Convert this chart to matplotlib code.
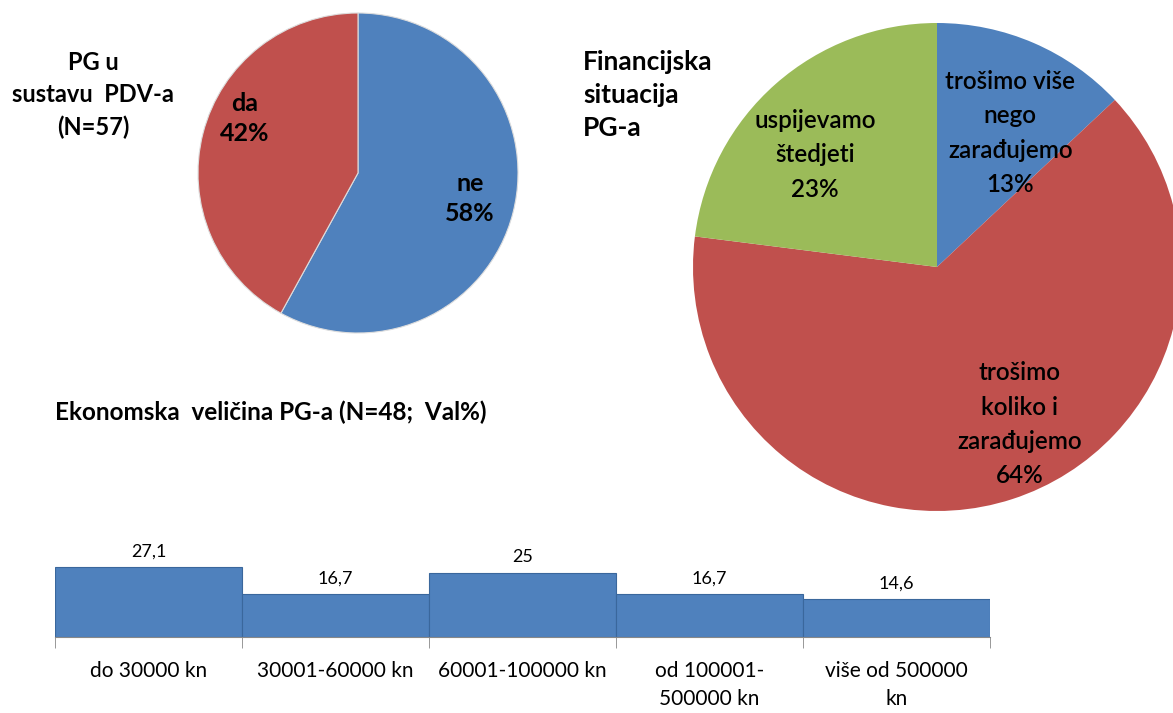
import numpy as np
import matplotlib.pyplot as plt

plt.rcParams['font.family'] = ['Lato', 'DejaVu Sans']

BLUE = '#4F81BD'
RED = '#C0504D'
GREEN = '#9BBB59'

# PG u sustavu PDV-a
pdv_labels = ['ne', 'da']
pdv_values = [58, 42]

# Financijska situacija PG-a
fin_labels = ['trošimo više\nnego\nzarađujemo', 'trošimo\nkoliko i\nzarađujemo', 'uspijevamo\nštedjeti']
fin_values = [13, 64, 23]

# Ekonomska veličina PG-a
eko_labels = ['do 30000 kn', '30001-60000 kn', '60001-100000 kn', 'od 100001-\n500000 kn', 'više od 500000\nkn']
eko_values = [27.1, 16.7, 25, 16.7, 14.6]
eko_text = ['27,1', '16,7', '25', '16,7', '14,6']

W, H = 1173, 713
fig = plt.figure(figsize=(W / 100, H / 100), dpi=100)


def px_axes(cx, cy, r):
    # square axes centred on (cx, cy) in pixel coordinates, origin top-left
    return fig.add_axes([(cx - r) / W, (H - cy - r) / H, 2 * r / W, 2 * r / H])


# lijevi krug
ax1 = px_axes(358, 173, 160)
w1, _ = ax1.pie(pdv_values, colors=[BLUE, RED], startangle=90, counterclock=False,
                wedgeprops=dict(edgecolor='#dddddd', linewidth=0.8))
ax1.set_xlim(-1, 1)
ax1.set_ylim(-1, 1)
pos1 = [(0.70, -0.16), (-0.71, 0.34)]
for lab, v, (x, y) in zip(pdv_labels, pdv_values, pos1):
    ax1.text(x, y, f'{lab}\n{v}%', ha='center', va='center', fontsize=18,
             fontweight='bold', linespacing=1.4)

fig.text(93 / W, 1 - 95 / H, 'PG u\nsustavu  PDV-a\n(N=57)', ha='center', va='center',
         fontsize=17, fontweight='bold', linespacing=1.5)

# desni krug
ax2 = px_axes(937, 267, 244)
w2, _ = ax2.pie(fin_values, colors=[BLUE, RED, GREEN], startangle=90, counterclock=False,
                wedgeprops=dict(edgecolor='none'))
ax2.set_xlim(-1, 1)
ax2.set_ylim(-1, 1)
pos2 = [(0.30, 0.55), (0.34, -0.645), (-0.50, 0.46)]
for lab, v, (x, y) in zip(fin_labels, fin_values, pos2):
    ax2.text(x, y, f'{lab}\n{v}%', ha='center', va='center', fontsize=17.5,
             fontweight='semibold', linespacing=1.6)

fig.text(583 / W, 1 - 95 / H, 'Financijska\nsituacija\nPG-a', ha='left', va='center',
         fontsize=19, fontweight='bold', linespacing=1.45)

# stupci
fig.text(55 / W, 1 - 412 / H, 'Ekonomska  veličina PG-a (N=48;  Val%)', ha='left',
         va='center', fontsize=17.5, fontweight='bold')

ax3 = fig.add_axes([55 / W, (H - 637) / H, 935 / W, 97 / H])
x = np.arange(len(eko_values))
ax3.bar(x, eko_values, width=1.0, color=BLUE, edgecolor='#3A679C', linewidth=0.8)
for xi, v, t in zip(x, eko_values, eko_text):
    ax3.text(xi, v + 3, t, ha='center', va='bottom', fontsize=13)
ax3.set_xlim(-0.5, len(eko_values) - 0.5)
ax3.set_ylim(0, 37.6)
ax3.set_yticks([])
for s in ['top', 'left', 'right']:
    ax3.spines[s].set_visible(False)
ax3.spines['bottom'].set_color('#888888')
ax3.set_xticks(x)
ax3.set_xticklabels(eko_labels, fontsize=15, linespacing=1.5, va='top')
ax3.tick_params(axis='x', which='major', length=0, pad=17)
ax3.set_xticks(np.arange(len(eko_values) + 1) - 0.5, minor=True)
ax3.tick_params(axis='x', which='minor', length=8, color='#888888')

fig.savefig('out.png', dpi=100)
